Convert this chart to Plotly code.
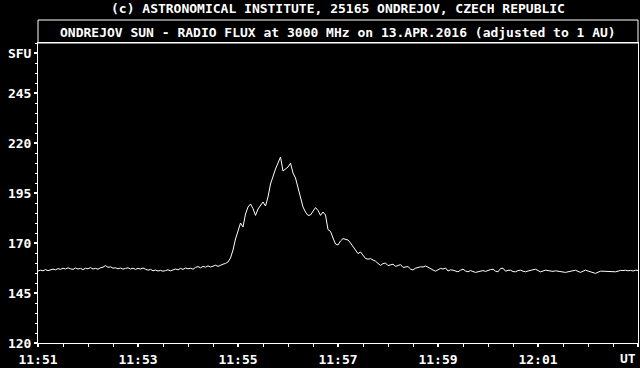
import plotly.graph_objects as go

# seconds after 11:51:00 UT, 3-s sampling
step_s = 3
flux_sfu = [
    156.0, 156.4, 156.1, 156.7, 156.2, 156.5, 156.9, 156.6, 157.2, 156.8,
    157.4, 157.0, 157.6, 157.1, 156.8, 157.5, 157.0, 157.3, 156.7, 157.4,
    157.1, 157.7, 157.0, 157.3, 156.9, 157.6, 157.9, 158.7, 157.8, 158.1,
    157.4, 157.6, 157.1, 157.5, 156.9, 157.3, 157.6, 157.0, 157.4, 156.8,
    157.3, 157.0, 157.5, 156.9, 156.4, 156.8, 156.1, 156.5, 156.0, 156.3,
    155.9, 156.2, 156.6, 156.1, 156.5, 157.0, 156.6, 157.3, 156.8, 157.5,
    157.1, 157.4, 156.9, 157.8, 158.2, 157.6, 158.3, 157.9, 158.6, 158.0,
    158.4, 158.9, 158.3, 159.0, 159.4, 159.8, 160.5, 162.5, 166.5, 172.0,
    176.5, 180.0, 178.0, 184.5, 188.0, 189.5, 187.2, 183.8, 187.0, 189.0,
    190.5, 188.5, 193.0, 199.5, 203.5, 207.0, 210.0, 213.0, 206.0, 207.1,
    208.0, 209.9, 205.0, 202.5, 198.0, 192.5, 188.0, 185.5, 183.8, 184.0,
    186.0, 187.7, 186.3, 183.8, 185.5, 184.0, 176.7, 175.8, 172.5, 169.5,
    169.0, 171.0, 172.2, 172.0, 171.5, 170.0, 168.0, 166.0, 164.7, 165.5,
    164.0, 162.3, 161.9, 162.2, 161.5, 160.9, 159.8, 158.8, 159.7, 160.0,
    158.7, 159.2, 159.4, 158.3, 158.8, 159.2, 157.8, 158.0, 158.2, 157.0,
    156.5, 157.4, 157.8, 158.1, 158.0, 158.5, 157.9, 157.4, 156.5, 155.9,
    156.7, 157.3, 157.0, 157.5, 156.0, 156.6, 156.4, 155.9, 155.6, 156.4,
    156.9, 156.0, 155.6, 156.2, 155.8, 155.3, 155.6, 156.0, 156.2, 155.8,
    156.4, 156.7, 156.9, 155.9, 155.6, 157.2, 157.4, 155.9, 156.3, 156.4,
    155.7, 155.6, 156.2, 156.4, 155.9, 155.6, 156.0, 156.4, 156.7, 156.9,
    156.2, 155.6, 156.0, 156.4, 156.2, 156.1, 155.8, 156.1, 155.9, 155.6,
    155.5, 155.3, 155.6, 155.9, 156.3, 156.4, 155.8, 155.3, 155.9, 156.4,
    156.0, 155.6, 155.2, 154.8, 155.4, 155.9, 155.9, 155.8, 156.0, 155.9,
    155.8, 155.6, 155.9, 156.3, 156.2, 156.4, 156.1, 156.3, 156.0, 156.4,
    156.3,
]
time_s = [i * step_s for i in range(len(flux_sfu))]

x_tickvals = [0, 120, 240, 360, 480, 600, 720]
x_ticktext = ["11:51", "11:53", "11:55", "11:57", "11:59", "12:01", ""]
y_tickvals = [120, 145, 170, 195, 220, 245, 265]
y_ticktext = ["120", "145", "170", "195", "220", "245", "SFU"]

title1 = "(c) ASTRONOMICAL INSTITUTE, 25165 ONDREJOV, CZECH REPUBLIC"
title2 = "ONDREJOV SUN - RADIO FLUX at 3000 MHz on 13.APR.2016 (adjusted to 1 AU)"

FONT = dict(family="DejaVu Sans Mono", size=13, color="white", weight="bold")

fig = go.Figure()
fig.add_trace(go.Scatter(x=time_s, y=flux_sfu, mode="lines",
                         line=dict(color="white", width=1), hoverinfo="skip"))

PH = 300.0
fig.update_layout(
    width=640, height=368,
    margin=dict(l=38, r=2, t=43, b=25, autoexpand=False),
    paper_bgcolor="black", plot_bgcolor="black",
    showlegend=False,
    font=FONT,
    xaxis=dict(range=[0, 720], tickmode="array", tickvals=x_tickvals, ticktext=x_ticktext,
               showgrid=False, zeroline=False, showline=True, linecolor="white", linewidth=1,
               mirror=True, ticks="outside", ticklen=3, tickwidth=2, tickcolor="white",
               tickfont=FONT, ticklabelstandoff=1, automargin=False,
               minor=dict(tickmode="linear", tick0=0, dtick=30, ticks="outside",
                          ticklen=3, tickwidth=1, tickcolor="white", showgrid=False)),
    yaxis=dict(range=[120, 270], tickmode="array", tickvals=y_tickvals, ticktext=y_ticktext,
               showgrid=False, zeroline=False, showline=True, linecolor="white", linewidth=1,
               mirror=True, ticks="outside", ticklen=3, tickwidth=2, tickcolor="white",
               tickfont=FONT, automargin=False,
               minor=dict(tickmode="linear", tick0=120, dtick=5, ticks="outside",
                          ticklen=2, tickwidth=1, tickcolor="white", showgrid=False)),
)

# title box frame above the plot area
top_box = (343 - 20) / PH
fig.add_shape(type="rect", xref="paper", yref="paper", x0=0, x1=1, y0=1, y1=top_box,
              line=dict(color="white", width=1))

fig.add_annotation(text=title1, xref="paper", yref="paper", x=0.5, y=(343 - 8.5) / PH,
                   showarrow=False, font=FONT, xanchor="center", yanchor="middle")
fig.add_annotation(text=title2, xref="paper", yref="paper", x=0.5, y=(343 - 32) / PH,
                   showarrow=False, font=FONT, xanchor="center", yanchor="middle")
fig.add_annotation(text="UT", xref="paper", yref="paper", x=1, y=(343 - 358) / PH,
                   showarrow=False, font=FONT, xanchor="right", yanchor="middle")

fig.write_html("out.html")
